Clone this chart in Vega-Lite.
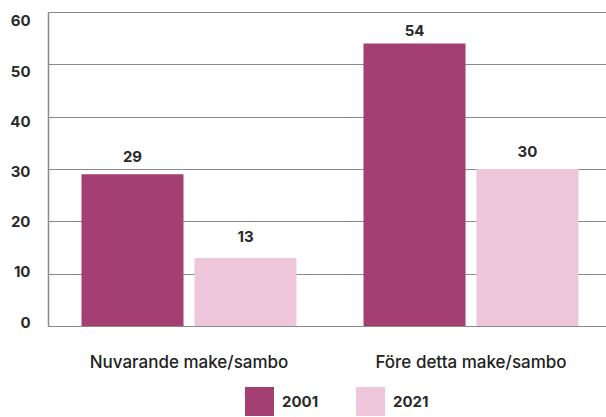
{
  "$schema": "https://vega.github.io/schema/vega-lite/v6.json",
  "width": 564,
  "height": 314,
  "autosize": {"type": "none"},
  "padding": {"left": 48, "top": 12, "right": 0, "bottom": 91},
  "background": "white",
  "config": {
    "view": {"stroke": null},
    "font": "Inter",
    "axis": {"labelFont": "Inter", "titleFont": "Inter"},
    "legend": {"labelFont": "Inter"}
  },
  "data": {
    "values": [
      {"grupp": "Nuvarande make/sambo", "ar": "2001", "andel": 29},
      {"grupp": "Nuvarande make/sambo", "ar": "2021", "andel": 13},
      {"grupp": "Före detta make/sambo", "ar": "2001", "andel": 54},
      {"grupp": "Före detta make/sambo", "ar": "2021", "andel": 30}
    ]
  },
  "encoding": {
    "x": {
      "field": "grupp",
      "type": "nominal",
      "sort": ["Nuvarande make/sambo", "Före detta make/sambo"],
      "scale": {"paddingInner": 0.2376, "paddingOuter": 0.1188},
      "axis": {
        "title": null,
        "labelAngle": 0,
        "labelFontSize": 17,
        "labelFontWeight": 500,
        "labelColor": "#222222",
        "labelPadding": 28,
        "labelBaseline": "top",
        "labelLimit": 0,
        "ticks": false,
        "domainColor": "#8a8a8a",
        "domainWidth": 1.2,
        "grid": false
      }
    },
    "xOffset": {
      "field": "ar",
      "type": "nominal",
      "scale": {"paddingInner": 0.097, "paddingOuter": 0}
    }
  },
  "layer": [
    {
      "mark": {"type": "bar"},
      "encoding": {
        "y": {
          "field": "andel",
          "type": "quantitative",
          "scale": {"domain": [0, 60], "nice": false},
          "axis": {
            "title": null,
            "values": [0, 10, 20, 30, 40, 50, 60],
            "labels": false,
            "ticks": false,
            "grid": true,
            "gridColor": "#8a8a8a",
            "gridWidth": 1.2,
            "domainColor": "#8a8a8a",
            "domainWidth": 1.5,
            "orient": "left"
          }
        },
        "color": {
          "field": "ar",
          "type": "nominal",
          "scale": {"domain": ["2001", "2021"], "range": ["#A33F72", "#EDC6D9"]},
          "legend": {
            "title": null,
            "orient": "none",
            "legendX": 197,
            "legendY": 375,
            "direction": "horizontal",
            "symbolType": "square",
            "symbolSize": 841,
            "symbolStrokeWidth": 0,
            "symbolOpacity": 1,
            "labelFontSize": 15,
            "labelFontWeight": 700,
            "labelColor": "#2a2a2a",
            "labelOffset": 8,
            "columnPadding": 37
          }
        }
      }
    },
    {
      "mark": {"type": "text", "fontSize": 15, "fontWeight": 700, "color": "#2a2a2a", "baseline": "middle", "dy": -20},
      "encoding": {
        "y": {
          "field": "andel",
          "type": "quantitative",
          "scale": {"domain": [-0.797, 61.794], "nice": false, "zero": false},
          "axis": {
            "title": null,
            "orient": "left",
            "values": [0, 10, 20, 30, 40, 50, 60],
            "labelFontSize": 15,
            "labelFontWeight": 700,
            "labelColor": "#2a2a2a",
            "labelPadding": 18,
            "ticks": false,
            "domain": false,
            "grid": false
          }
        },
        "text": {"field": "andel", "type": "quantitative"}
      }
    }
  ],
  "resolve": {"scale": {"y": "independent"}, "axis": {"y": "independent"}}
}
